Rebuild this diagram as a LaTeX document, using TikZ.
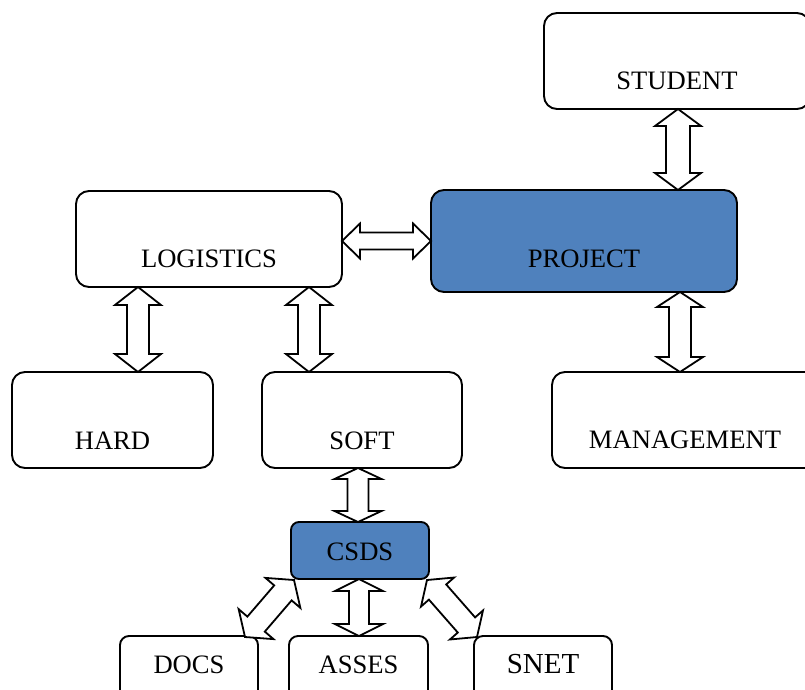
\documentclass[tikz,border=0pt]{standalone}
\usepackage{fontspec}
\setmainfont{Liberation Serif}
\usetikzlibrary{calc}

\definecolor{boxblue}{RGB}{79,129,189}

% Double-headed block arrow between two points:
% #1 start, #2 end, #3 head length, #4 head half-width, #5 shaft half-width
\newcommand\biarrow[5]{%
  \draw[blockarrow] (#1)
    -- ($(#1)!#3!(#2)!#4!90:(#2)$)
    -- ($(#1)!#3!(#2)!#5!90:(#2)$)
    -- ($(#2)!#3!(#1)!#5!-90:(#1)$)
    -- ($(#2)!#3!(#1)!#4!-90:(#1)$)
    -- (#2)
    -- ($(#2)!#3!(#1)!#4!90:(#1)$)
    -- ($(#2)!#3!(#1)!#5!90:(#1)$)
    -- ($(#1)!#3!(#2)!#5!-90:(#2)$)
    -- ($(#1)!#3!(#2)!#4!-90:(#2)$)
    -- cycle;}

\tikzset{
  box/.style={draw=black, line width=1.9pt, rounded corners=13pt, fill=white,
    inner sep=0pt, outer sep=0pt, anchor=north west,
    font=\fontsize{26.6}{30}\selectfont},
  bluebox/.style={box, fill=boxblue},
  smallbox/.style={box, rounded corners=9pt},
  blockarrow/.style={draw=black, fill=white, line width=1.8pt, line join=miter},
}

\begin{document}
\begin{tikzpicture}[x=1pt, y=-1pt]
  \useasboundingbox (0,0) rectangle (805,689);
  \clip (0,0) rectangle (805,689);

  % top row
  \node[box, minimum width=266pt, text height=76pt, text depth=20pt]
    (student) at (544,13) {STUDENT};
  \node[box, minimum width=266pt, text height=76pt, text depth=20pt]
    (logi) at (76,191) {LOGISTICS};
  \node[bluebox, minimum width=306pt, text height=77pt, text depth=25pt]
    (project) at (431,190) {PROJECT};

  % middle row
  \node[box, minimum width=201pt, text height=77pt, text depth=19pt]
    (hard) at (12,372) {HARD};
  \node[box, minimum width=200pt, text height=77pt, text depth=19pt]
    (soft) at (262,372) {SOFT};
  \node[box, minimum width=266pt, text height=76pt, text depth=20pt]
    (mgmt) at (552,372) {MANAGEMENT};

  % lower part
  \node[bluebox, rounded corners=8pt, minimum width=138pt, text height=38pt, text depth=19pt]
    (csds) at (291,522) {CSDS};
  \node[smallbox, minimum width=138pt, text height=37pt, text depth=30pt]
    (docs) at (120,636) {DOCS};
  \node[smallbox, minimum width=139pt, text height=37pt, text depth=30pt]
    (asses) at (289,636) {ASSES};
  \node[smallbox, minimum width=138pt, text height=37pt, text depth=30pt,
    font=\fontsize{29}{33}\selectfont]
    (snet) at (474,636) {SNET};

  % arrow end points on the box borders
  \coordinate (a1s) at ([xshift=1pt]student.south);
  \coordinate (a1e) at (a1s |- project.north);
  \coordinate (a2s) at ([yshift=-2pt]logi.east);
  \coordinate (a2e) at (a2s -| project.west);
  \coordinate (a3s) at ([xshift=-71pt]logi.south);
  \coordinate (a3e) at (a3s |- hard.north);
  \coordinate (a4s) at ([xshift=100pt]logi.south);
  \coordinate (a4e) at (a4s |- soft.north);
  \coordinate (a5s) at ([xshift=96pt]project.south);
  \coordinate (a5e) at (a5s |- mgmt.north);
  \coordinate (a6s) at ([xshift=-4pt]soft.south);
  \coordinate (a6e) at (a6s |- csds.north);
  \coordinate (a7s) at ([xshift=-1pt]csds.south);
  \coordinate (a7e) at (a7s |- asses.north);
  \coordinate (a8s) at ([xshift=3pt,yshift=-1pt]csds.south west);
  \coordinate (a8e) at ([xshift=-13pt,yshift=-1pt]docs.north east);
  \coordinate (a9s) at ([xshift=-2pt,yshift=-1pt]csds.south east);
  \coordinate (a9e) at ([xshift=3pt,yshift=-1pt]snet.north west);

  % block arrows
  \biarrow{a1s}{a1e}{17pt}{23pt}{12pt}
  \biarrow{a2s}{a2e}{18pt}{17.5pt}{8.5pt}
  \biarrow{a3s}{a3e}{18pt}{23pt}{11pt}
  \biarrow{a4s}{a4e}{18pt}{23pt}{11pt}
  \biarrow{a5s}{a5e}{15pt}{23pt}{11pt}
  \biarrow{a6s}{a6e}{11pt}{23.5pt}{10.5pt}
  \biarrow{a7s}{a7e}{12pt}{24pt}{10pt}
  \biarrow{a8s}{a8e}{17pt}{23pt}{11.5pt}
  \biarrow{a9s}{a9e}{16pt}{22pt}{11.5pt}
\end{tikzpicture}
\end{document}
